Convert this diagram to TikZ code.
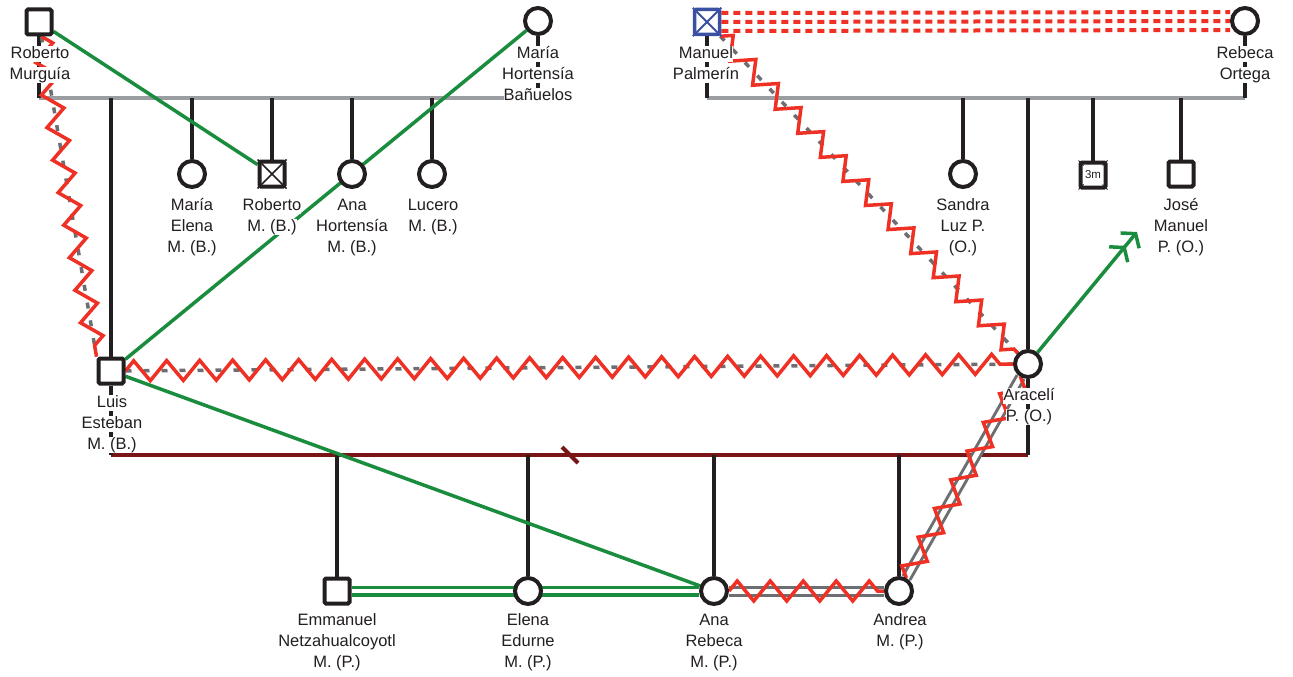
\documentclass[tikz,border=0pt]{standalone}
\usepackage{fontspec}
\setmainfont{Liberation Sans}
\usetikzlibrary{decorations.pathmorphing, arrows.meta}

\definecolor{ink}{HTML}{231F20}
\definecolor{sibgray}{HTML}{9A9DA1}
\definecolor{marr}{HTML}{7A1517}
\definecolor{grn}{HTML}{1A8C3E}
\definecolor{rd}{HTML}{EE3124}
\definecolor{dgray}{HTML}{6D6E71}
\definecolor{blu}{HTML}{3A50A2}

% one line of a name label, on a white strip that hides the lines behind it
\setlength{\fboxsep}{0pt}
\newcommand\wline[1]{\colorbox{white}{\rule[-3.6pt]{0pt}{16pt}\smash{#1}}}

\pgfdeclarelayer{fam}
\pgfdeclarelayer{rel}
\pgfdeclarelayer{txt}
\pgfsetlayers{fam,rel,txt,main}

\begin{document}
\begin{tikzpicture}[x=1pt, y=-1pt,
  fem/.style={circle, draw=ink, line width=4pt, fill=white, minimum size=26pt, inner sep=0pt},
  mal/.style={rectangle, rounded corners=1.5pt, draw=ink, line width=4pt, fill=white, minimum size=25pt, inner sep=0pt},
  lbl/.style={anchor=north, yshift=12.4pt, inner sep=0pt, align=center, text=ink,
              font=\fontsize{16.5}{21}\selectfont},
  stem/.style={draw=ink, line width=4pt},
  sibl/.style={draw=sibgray, line width=4pt},
  marline/.style={draw=marr, line width=4pt},
  close/.style={draw=grn, line width=3.5pt},
  distant/.style={draw=dgray, line width=3.5pt, dash pattern=on 6pt off 12pt},
  twogray/.style={draw=dgray, line width=3pt, double=white, double distance=5pt},
  hostile/.style={draw=rd, line width=3.5pt, line join=miter, decorate,
                  decoration={zigzag, segment length=33pt, amplitude=10pt}},
  reddash/.style={draw=rd, line width=4pt, dash pattern=on 7pt off 5pt}
]
\useasboundingbox (0,0) rectangle (1293,677);

% ---------- people ----------
\node[mal] (rm)  at (39,22)   {};
\node[fem] (mhb) at (538,21)  {};
\node[mal, draw=blu, line width=3.5pt] (mp) at (707,22) {};
\node[fem] (ro)  at (1245,21) {};

\node[fem] (me)  at (192,174) {};
\node[mal] (rmb) at (272,174) {};
\node[fem] (ah)  at (352,174) {};
\node[fem] (lu)  at (432,174) {};
\node[mal] (le)  at (111,371) {};

\node[fem] (sl)  at (963,174) {};
\node[fem] (ar)  at (1028,364) {};
\node[mal, font=\fontsize{11.5}{12}\selectfont, text=ink] (tm) at (1093,175) {3m};
\node[mal] (jm)  at (1181,174) {};

\node[mal] (em)  at (337,591) {};
\node[fem] (ee)  at (528,591) {};
\node[fem] (arb) at (714,591) {};
\node[fem] (an)  at (899,591) {};

% deceased marks
\draw[ink, line width=1.5pt] (rmb.north west) -- (rmb.south east) (rmb.north east) -- (rmb.south west);
\draw[blu, line width=2pt] (mp.north west) -- (mp.south east) (mp.north east) -- (mp.south west);
% pregnancy corner ticks
\draw[ink, line width=1pt]
  (tm.north west) -- ++(5,5)   (tm.north east) -- ++(-5,5)
  (tm.south west) -- ++(5,-5)  (tm.south east) -- ++(-5,-5);

% ---------- family lines ----------
\begin{pgfonlayer}{fam}
  \coordinate (pL) at (39,98);
  \coordinate (pR) at (538,98);
  \draw[sibl] (pL) -- (pR);
  \draw[stem] (rm) -- (pL);
  \draw[stem] (mhb) -- (pR);
  \foreach \c in {le,me,rmb,ah,lu} \draw[stem] (\c |- pL) -- (\c);

  \coordinate (qL) at (707,98);
  \coordinate (qR) at (1245,98);
  \draw[sibl] (qL) -- (qR);
  \draw[stem] (mp) -- (qL);
  \draw[stem] (ro) -- (qR);
  \foreach \c in {sl,ar,tm,jm} \draw[stem] (\c |- qL) -- (\c);

  \coordinate (mL) at (111,455);
  \coordinate (mR) at (1028,455);
  \draw[marline] (mL) -- (mR);
  \draw[stem] (le) -- (mL);
  \draw[stem] (ar) -- (mR);
  \foreach \c in {em,ee,arb,an} \draw[stem] (\c |- mL) -- (\c);
  % separation mark
  \coordinate (dv) at (570,455);
  \draw[marline] ([shift={(-8,-8)}]dv) -- ([shift={(8,8)}]dv);
\end{pgfonlayer}

% ---------- emotional relationships ----------
\begin{pgfonlayer}{rel}
  \draw[close] (rm) -- (rmb);
  \draw[close] (le) -- (mhb);
  \draw[close] (le) -- (arb);
  \draw[draw=grn, line width=3.5pt, double=white, double distance=4pt] (em) -- (arb);
  \coordinate (arrowEnd) at (1137,232);
  \draw[close, -{Straight Barb[length=9pt,width=24pt,line width=3.5pt,sep=5pt]Straight Barb[length=9pt,width=24pt,line width=3.5pt]}] (ar) -- (arrowEnd);

  \draw[reddash] ([yshift=9pt]mp.east) -- ([yshift=9pt]ro.west);
  \draw[reddash] (mp.east) -- (ro.west);
  \draw[reddash] ([yshift=-9pt]mp.east) -- ([yshift=-9pt]ro.west);

  \draw[distant] (rm) -- (le.north west);
  \draw[hostile] (rm) -- (le.north west);
  \draw[distant] (mp) -- (ar);
  \draw[hostile] (mp) -- (ar);
  \draw[distant] (le) -- (ar);
  \draw[hostile] (le) -- (ar);
  \draw[twogray] (arb) -- (an);
  \draw[hostile] (arb) -- (an);
  \draw[twogray] (an) -- (ar);
  \draw[hostile] (an) -- (ar);
\end{pgfonlayer}

% ---------- names ----------
\begin{pgfonlayer}{txt}
  \node[lbl] (l-rm)  at (40,58)   {\wline{Roberto}\\\wline{Murguía}};
  \node[lbl] (l-mhb) at (538,58)  {\wline{María}\\\wline{Hortensía}\\\wline{Bañuelos}};
  \node[lbl] (l-mp)  at (706,58)  {\wline{Manuel}\\\wline{Palmerín}};
  \node[lbl] (l-ro)  at (1245,58) {\wline{Rebeca}\\\wline{Ortega}};

  \node[lbl] (l-me)  at (192,210) {\wline{María}\\\wline{Elena}\\\wline{M. (B.)}};
  \node[lbl] (l-rmb) at (272,210) {\wline{Roberto}\\\wline{M. (B.)}};
  \node[lbl] (l-ah)  at (352,210) {\wline{Ana}\\\wline{Hortensía}\\\wline{M. (B.)}};
  \node[lbl] (l-lu)  at (433,210) {\wline{Lucero}\\\wline{M. (B.)}};
  \node[lbl] (l-sl)  at (963,210) {\wline{Sandra}\\\wline{Luz P.}\\\wline{(O.)}};
  \node[lbl] (l-jm)  at (1181,210){\wline{José}\\\wline{Manuel}\\\wline{P. (O.)}};

  \node[lbl] (l-le)  at (112,407) {\wline{Luis}\\\wline{Esteban}\\\wline{M. (B.)}};
  \node[lbl] (l-ar)  at (1029,400){\wline{Aracelí}\\\wline{P. (O.)}};

  \node[lbl] (l-em)  at (337,625) {\wline{Emmanuel}\\\wline{Netzahualcoyotl}\\\wline{M. (P.)}};
  \node[lbl] (l-ee)  at (528,625) {\wline{Elena}\\\wline{Edurne}\\\wline{M. (P.)}};
  \node[lbl] (l-arb) at (714,625) {\wline{Ana}\\\wline{Rebeca}\\\wline{M. (P.)}};
  \node[lbl] (l-an)  at (900,625) {\wline{Andrea}\\\wline{M. (P.)}};
\end{pgfonlayer}
\end{tikzpicture}
\end{document}
